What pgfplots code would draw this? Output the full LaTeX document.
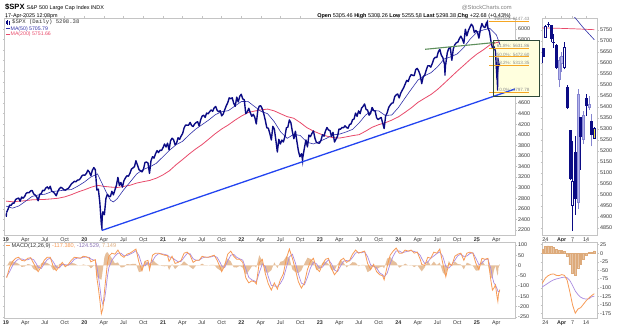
\documentclass[border=0pt]{standalone}
\usepackage{pgfplots}
\pgfplotsset{compat=1.18}
\usepackage{pgfplotstable}
\usepackage{fontspec}
\setmainfont{Liberation Sans}
\newfontfamily\monofont{Liberation Mono}

\definecolor{navyb}{HTML}{0B0B84}
\definecolor{ma50}{HTML}{3030A8}
\definecolor{ma200}{HTML}{E84A6A}
\definecolor{trend}{HTML}{2344F0}
\definecolor{greenl}{HTML}{5E8F5C}
\definecolor{fib}{HTML}{F5A623}
\definecolor{macdc}{HTML}{F79A55}
\definecolor{sigc}{HTML}{A98BE0}
\definecolor{histc}{HTML}{DDAA7A}
\definecolor{framec}{HTML}{C4C4C4}
\definecolor{lblc}{HTML}{333333}
\definecolor{boxfill}{HTML}{FFFFDE}
\definecolor{boxdraw}{HTML}{2F4A3A}
\definecolor{fibtxt}{HTML}{8C8C8C}
\definecolor{lightf}{HTML}{B4B4EC}
\definecolor{lightd}{HTML}{8585D0}
\definecolor{hlyel}{HTML}{F2E33A}

% weekly closes, Jan 2019 - 17 Apr 2025
\pgfplotstableread[row sep=\\]{v\\
2532\\2596\\2671\\2665\\2707\\2708\\2776\\2793\\2804\\2743\\2822\\2800\\2834\\2893\\2907\\2905\\2940\\2946\\2881\\2860\\2826\\2752\\2873\\2887\\2950\\2942\\2990\\3014\\2977\\3026\\2932\\2919\\2889\\2847\\2926\\2979\\3007\\2992\\2962\\2952\\2970\\2986\\3023\\3067\\3093\\3120\\3110\\3141\\3146\\3169\\3221\\3240\\
3235\\3265\\3330\\3295\\3226\\3328\\3380\\3338\\2954\\2972\\2711\\2305\\2541\\2489\\2790\\2875\\2837\\2831\\2930\\2864\\2955\\3044\\3194\\3041\\3098\\3009\\3130\\3185\\3225\\3216\\3271\\3351\\3373\\3397\\3508\\3427\\3341\\3319\\3298\\3348\\3477\\3484\\3465\\3270\\3509\\3585\\3558\\3638\\3699\\3663\\3709\\3703\\3756\\
3825\\3768\\3841\\3714\\3887\\3934\\3907\\3811\\3842\\3943\\3913\\3975\\4020\\4129\\4185\\4180\\4181\\4233\\4174\\4156\\4204\\4230\\4247\\4166\\4281\\4352\\4370\\4327\\4411\\4395\\4437\\4468\\4442\\4509\\4535\\4459\\4433\\4455\\4357\\4391\\4471\\4545\\4605\\4697\\4682\\4698\\4595\\4538\\4712\\4620\\4726\\4766\\
4677\\4662\\4398\\4432\\4500\\4418\\4349\\4385\\4329\\4204\\4463\\4543\\4546\\4488\\4393\\4272\\4132\\4123\\4024\\3901\\4158\\4109\\3901\\3675\\3912\\3825\\3899\\3863\\3962\\4130\\4145\\4280\\4228\\4058\\3924\\4067\\3873\\3693\\3586\\3640\\3583\\3752\\3901\\3771\\3993\\3965\\4026\\4072\\3934\\3852\\3845\\3840\\
3895\\3999\\3973\\4071\\4136\\4090\\4079\\3970\\4046\\3862\\3917\\3971\\4109\\4105\\4138\\4133\\4169\\4136\\4124\\4192\\4205\\4282\\4299\\4410\\4348\\4450\\4399\\4505\\4536\\4582\\4478\\4464\\4370\\4406\\4516\\4457\\4450\\4320\\4288\\4308\\4327\\4224\\4117\\4358\\4415\\4514\\4559\\4595\\4604\\4719\\4755\\4770\\
4697\\4784\\4840\\4891\\4959\\5027\\5006\\5089\\5137\\5124\\5117\\5234\\5254\\5204\\5123\\4967\\5100\\5128\\5223\\5303\\5305\\5278\\5347\\5432\\5465\\5460\\5567\\5615\\5505\\5459\\5346\\5344\\5554\\5634\\5648\\5408\\5626\\5702\\5738\\5751\\5815\\5864\\5808\\5729\\5995\\5870\\5969\\6032\\6090\\6051\\5931\\5971\\
5942\\5827\\5997\\6101\\6041\\6026\\6115\\6013\\5955\\5770\\5639\\5667\\5581\\5074\\5363\\5298\\
}\spx

\pgfplotsset{
  panel/.style={
    scale only axis, anchor=south west,
    axis line style={draw=framec, line width=0.5pt},
    tick style={draw=framec, line width=0.4pt},
    tick align=outside, major tick length=1.5pt,
    yticklabel pos=right,
    tick label style={font=\fontsize{5.4}{6}\selectfont, text=lblc},
    xticklabel style={inner sep=1pt},
    yticklabel style={inner sep=1.5pt},
    /pgf/number format/assume math mode=true,
    /pgf/number format/1000 sep={},
  },
  wk/.style={
    xmin=-1.4, xmax=338,
    xtick={-0.43,12.43,25.43,38.57,51.71,64.71,77.71,90.86,104,116.86,129.86,143,156.14,169,182,195.14,208.29,221.14,234.14,247.29,260.43,273.43,286.43,299.57,312.71,325.57},
    xticklabels={\textbf{19},Apr,Jul,Oct,\textbf{20},Apr,Jul,Oct,\textbf{21},Apr,Jul,Oct,\textbf{22},Apr,Jul,Oct,\textbf{23},Apr,Jul,Oct,\textbf{24},Apr,Jul,Oct,\textbf{25},Apr},
  },
  dy/.style={
    xmin=-1.25, xmax=19,
    xtick={0,6,10,15}, xticklabels={24,\textbf{Apr},7,14},
  },
  cdn/.style={draw=navyb, fill=navyb},
  cdl/.style={draw=lightd, fill=lightf},
  cdh/.style={draw=navyb, fill=white},
  cdy/.style={draw=navyb, fill=hlyel},
}
% wick: x, low, high, colour ; body: left x, right x, bottom, top, style
\newcommand\wick[4]{\addplot[#4, line width=0.45pt, forget plot] coordinates {(#1,#2) (#1,#3)};}
\newcommand\cbody[5]{\addplot[#5, line width=0.45pt, forget plot] coordinates {(#1,#3) (#2,#3) (#2,#4) (#1,#4)} -- cycle;}

\begin{document}
\begin{tikzpicture}
\path[use as bounding box] (0pt,0pt) rectangle (624pt,336pt);

% ---------------- main price panel ----------------
\begin{axis}[panel, wk, at={(4.5pt,101pt)}, width=510.5pt, height=217pt,
  ymin=2105, ymax=6207, ytick={2200,2400,...,6000}, clip=false]
  \fill[boxfill] (axis cs:323.4,5791) rectangle (axis cs:354,4733);
  \addplot[ma200, line width=0.8pt] coordinates {
    (-0.3,2745) (3.92,2733) (8.27,2744) (12.61,2754) (16.96,2770) (21.31,2775) (25.66,2778) (30,2788) (34.35,2800) (38.7,2826) (43.05,2867) (47.4,2917) (51.75,2959)
    (56.1,3007) (60.45,3044) (64.79,3024) (69.14,3011) (73.49,3003) (77.84,3023) (82.18,3046) (86.53,3087) (90.88,3113) (95.23,3137) (99.58,3180) (103.93,3240)
    (108.28,3320) (112.63,3432) (116.97,3531) (121.32,3635) (125.67,3731) (130.02,3816) (134.36,3917) (138.71,4020) (143.06,4110) (147.41,4186) (151.76,4274) (156.11,4353)
    (160.46,4419) (164.81,4448) (169.15,4470) (173.5,4485) (177.85,4452) (182.2,4396) (186.54,4342) (190.89,4312) (195.24,4230) (199.59,4135) (203.94,4070) (208.29,4018)
    (212.64,3975) (216.99,3944) (221.33,3937) (225.68,3959) (230.03,3983) (234.38,4002) (238.72,4068) (243.07,4142) (247.42,4191) (251.77,4227) (256.12,4277) (260.47,4338)
    (264.82,4422) (269.17,4511) (273.51,4613) (277.86,4689) (282.21,4762) (286.56,4858) (290.9,4971) (295.25,5087) (299.6,5203) (303.95,5313) (308.3,5425) (312.65,5525)
    (317,5606) (321.35,5699) (325.69,5743) (327.9,5752)};
  \addplot[ma50, line width=0.6pt] coordinates {
    (-0.3,2650) (3.92,2612) (8.27,2656) (12.61,2744) (16.96,2835) (21.31,2863) (25.66,2877) (30,2926) (34.35,2938) (38.7,2954) (43.05,2964) (47.4,3029) (51.75,3107)
    (56.1,3203) (60.45,3259) (64.79,3000) (67,2870) (69.14,2760) (71,2730) (73.49,2790) (77.84,2960) (82.18,3108) (86.53,3260) (90.88,3344) (95.23,3392) (99.58,3461) (103.93,3584)
    (108.28,3706) (112.63,3810) (116.97,3876) (121.32,3997) (125.67,4106) (130.02,4192) (134.36,4278) (138.71,4378) (143.06,4436) (147.41,4455) (151.76,4542) (156.11,4628)
    (160.46,4630) (164.81,4534) (169.15,4442) (173.5,4398) (177.85,4250) (182.2,4054) (186.54,3932) (190.89,4008) (195.24,3986) (199.59,3860) (203.94,3826) (208.29,3876)
    (212.64,3932) (216.99,3998) (221.33,4012) (225.68,4052) (230.03,4102) (234.38,4224) (238.72,4374) (243.07,4458) (247.42,4450) (251.77,4364) (256.12,4374) (260.47,4514)
    (264.82,4692) (269.17,4866) (273.51,5034) (277.86,5114) (282.21,5174) (286.56,5286) (290.9,5432) (295.25,5472) (299.6,5528) (303.95,5650) (308.3,5812) (312.65,5934)
    (317,5982) (321.35,6010) (325.69,5884) (327.9,5706)};
  \addplot[navyb, line width=1.4pt, line join=round] table[x expr=\coordindex, y=v] {\spx};
  \addplot[navyb, line width=1.1pt] coordinates {(-0.35,2510) (-0.15,2447) (0,2532)};
  \addplot[navyb, line width=1.1pt] coordinates {(63,2305) (63.43,2192) (63.6,2450) (64,2541)};
  \addplot[navyb, line width=1.1pt] coordinates {(196,3640) (196.8,3491) (197,3583)};
  \addplot[navyb, line width=1.1pt] coordinates {(291,5346) (291.43,5120) (292,5344)};
  \addplot[navyb, line width=1.1pt] coordinates {(319,6115) (319.71,6147) (320,6013)};
  \addplot[navyb, line width=1.1pt] coordinates {(326,5074) (326.43,4835) (326.57,4983) (326.71,5457) (327,5363)};
  \addplot[trend, line width=1.3pt] coordinates {(63.4,2192) (338,4865)};
  \addplot[greenl, line width=1.1pt] coordinates {(278.2,5615) (324.7,5744)};
  \addplot[fib, line width=1.1pt] coordinates {(320.9,6147.43) (347.4,6147.43)};
  \addplot[fib, line width=1.1pt] coordinates {(320.9,5631.86) (347.4,5631.86)};
  \addplot[fib, line width=1.1pt] coordinates {(320.9,5472.60) (347.4,5472.60)};
  \addplot[fib, line width=1.1pt] coordinates {(320.9,5313.35) (347.4,5313.35)};
  \addplot[fib, line width=1.1pt] coordinates {(320.9,4797.78) (347.4,4797.78)};
  \draw[boxdraw, line width=0.9pt] (axis cs:323.4,5791) rectangle (axis cs:354,4733);
  \begin{scope}[every node/.style={anchor=south east, inner sep=0.4pt, text=fibtxt, font=\fontsize{4.6}{5}\selectfont}]
    \node at (axis cs:348,6147.43) {100.0\%: 6147.43};
    \node at (axis cs:348,5631.86) {61.8\%: 5631.86};
    \node at (axis cs:348,5472.60) {50.0\%: 5472.60};
    \node at (axis cs:348,5313.35) {38.2\%: 5313.35};
    \node at (axis cs:348,4797.78) {0.0\%: 4797.78};
  \end{scope}
\end{axis}

% ---------------- main MACD panel ----------------
\begin{axis}[panel, wk, at={(4.5pt,18pt)}, width=510.5pt, height=75.3pt,
  ymin=-256, ymax=111, ytick={-250,-200,...,100}]
  \addplot[draw=none, fill=histc, fill opacity=0.75] coordinates {
    (0,-5)(2,20)(4,20)(6,15)(8,8)(10,-7)(12,-5)(14,7)(16,4)(18,-18)(20,-25)(21,-22)(23,10)(25,17)(27,12)(29,3)(31,-23)(33,-18)(35,7)(37,10)(39,-9)(41,4)(43,12)(45,10)(47,2)(49,-1)(51,5)
    (53,1)(55,-4)(56,-14)(58,-1)(59,2)(60,-55)(61,-60)(62,-65)(63,-70)(64,-20)(65,40)(66,60)(67,65)(68,55)(70,35)(72,10)(74,15)(76,-10)(78,-8)(80,7)(82,5)(84,8)(86,8)(88,-33)(90,-27)(92,22)(94,10)(95,-25)(97,28)(99,14)(101,3)(103,-2)
    (105,-4)(107,-2)(108,-22)(110,7)(112,-18)(114,-3)(116,5)(118,20)(120,7)(122,-7)(124,-18)(126,0)(128,-1)(130,9)(132,-1)(134,0)(136,3)(138,3)(140,-14)(142,-24)(143,-28)(145,10)(147,33)(149,20)(151,-9)(153,-10)(155,-2)
    (157,-11)(159,-45)(161,-27)(163,-5)(165,-4)(166,-10)(168,50)(170,22)(172,-35)(174,-35)(176,-23)(178,15)(180,-13)(182,18)(184,22)(186,45)(188,38)(190,-20)(192,-32)(194,-38)(196,-24)(198,9)(200,38)(202,32)(204,19)(206,-23)(208,-18)
    (210,13)(212,18)(214,7)(216,-23)(218,-23)(220,5)(222,28)(224,14)(226,-9)(228,3)(230,16)(232,14)(234,-4)(236,3)(238,3)(240,-33)(242,-23)(244,9)(246,-18)(248,-9)(250,-5)(251,-14)(253,33)(255,42)(257,24)(259,14)
    (261,-11)(263,-2)(265,9)(267,0)(269,3)(271,-8)(273,1)(275,-19)(276,-29)(278,-9)(280,23)(282,0)(284,19)(286,2)(288,14)(290,-34)(292,-50)(294,23)(296,-4)(298,19)(300,7)(302,5)(304,-19)(306,14)(308,7)(310,-2)(312,-25)
    (314,-24)(316,24)(318,2)(320,3)(322,-58)(323,-62)(324,-24)(325,0)(326,-38)(326.6,-50)(327,-12)(327.9,7.1)} \closedcycle;
  \addplot[sigc, line width=0.7pt] coordinates {
    (0,-55)(2,-30)(4,0)(6,20)(8,32)(10,32)(12,27)(14,28)(16,34)(18,28)(20,5)(21,-8)(23,-15)(25,8)(27,28)(29,37)(31,18)(33,-7)(35,-12)(37,5)(39,4)(41,1)(43,13)(45,30)(47,36)(49,36)(51,40)
    (53,41)(55,39)(56,32)(58,26)(59,26)(60,-5)(61,-50)(62,-105)(63,-165)(64,-190)(65,-170)(66,-120)(67,-55)(68,-10)(70,25)(72,45)(74,60)(76,60)(78,48)(80,48)(82,55)(84,62)(86,72)(88,48)(90,2)(92,-2)(94,15)(95,5)(97,22)(99,46)(101,57)(103,57)
    (105,54)(107,50)(108,42)(110,38)(112,28)(114,18)(116,20)(118,40)(120,58)(122,57)(124,33)(126,25)(128,26)(130,36)(132,41)(134,40)(136,42)(138,47)(140,39)(142,14)(143,-2)(145,-10)(147,22)(149,50)(151,54)(153,40)(155,32)
    (157,26)(159,-15)(161,-58)(163,-70)(165,-76)(166,-80)(168,-35)(170,8)(172,-5)(174,-55)(176,-97)(178,-100)(180,-102)(182,-88)(184,-62)(186,-10)(188,42)(190,55)(192,12)(194,-42)(196,-86)(198,-94)(200,-58)(202,-12)(204,16)(206,8)(208,-12)
    (210,-8)(212,12)(214,28)(216,8)(218,-22)(220,-30)(222,-3)(224,21)(226,24)(228,22)(230,39)(232,61)(234,64)(236,62)(238,67)(240,43)(242,3)(244,-4)(246,-12)(248,-36)(250,-45)(251,-56)(253,-38)(255,8)(257,46)(259,71)
    (261,71)(263,62)(265,66)(267,70)(269,72)(271,68)(273,64)(275,49)(276,34)(278,9)(280,17)(282,35)(284,46)(286,58)(288,66)(290,44)(292,-5)(294,-13)(296,4)(298,26)(300,48)(302,55)(304,44)(306,46)(308,58)(310,62)(312,35)
    (314,4)(316,11)(318,28)(320,32)(322,-17)(323,-58)(324,-86)(325,-95)(326,-112)(326.6,-125)(327,-128)(327.9,-124.5)};
  \addplot[macdc, line width=0.8pt] coordinates {
    (0,-60)(2,-10)(4,20)(6,35)(8,40)(10,25)(12,22)(14,35)(16,38)(18,10)(20,-20)(21,-30)(23,-5)(25,25)(27,40)(29,40)(31,-5)(33,-25)(35,-5)(37,15)(39,-5)(41,5)(43,25)(45,40)(47,38)(49,35)(51,45)
    (53,42)(55,35)(56,18)(58,25)(59,28)(60,-60)(61,-110)(62,-170)(63,-235)(64,-210)(65,-130)(66,-60)(67,10)(68,45)(70,60)(72,55)(74,75)(76,50)(78,40)(80,55)(82,60)(84,70)(86,80)(88,15)(90,-25)(92,20)(94,25)(95,-20)(97,50)(99,60)(101,60)(103,55)
    (105,50)(107,48)(108,20)(110,45)(112,10)(114,15)(116,25)(118,60)(120,65)(122,50)(124,15)(126,25)(128,25)(130,45)(132,40)(134,40)(136,45)(138,50)(140,25)(142,-10)(143,-30)(145,0)(147,55)(149,70)(151,45)(153,30)(155,30)
    (157,15)(159,-60)(161,-85)(163,-75)(165,-80)(166,-90)(168,15)(170,30)(172,-40)(174,-90)(176,-120)(178,-85)(180,-115)(182,-70)(184,-40)(186,35)(188,80)(190,35)(192,-20)(194,-80)(196,-110)(198,-85)(200,-20)(202,20)(204,35)(206,-15)(208,-30)
    (210,5)(212,30)(214,35)(216,-15)(218,-45)(220,-25)(222,25)(224,35)(226,15)(228,25)(230,55)(232,75)(234,60)(236,65)(238,70)(240,10)(242,-20)(244,5)(246,-30)(248,-45)(250,-50)(251,-70)(253,-5)(255,50)(257,70)(259,85)
    (261,60)(263,60)(265,75)(267,70)(269,75)(271,60)(273,65)(275,30)(276,5)(278,0)(280,40)(282,35)(284,65)(286,60)(288,80)(290,10)(292,-55)(294,10)(296,0)(298,45)(300,55)(302,60)(304,25)(306,60)(308,65)(310,60)(312,10)
    (314,-20)(316,35)(318,30)(320,35)(322,-75)(323,-120)(324,-110)(325,-95)(326,-150)(326.6,-175)(327,-140)(327.9,-117.4)};
\end{axis}

% ---------------- daily zoom price panel ----------------
\begin{axis}[panel, dy, at={(542pt,101pt)}, width=55pt, height=217pt,
  ymin=4817, ymax=5805, ytick={4850,4900,...,5750}]
  \addplot[ma200, line width=0.7pt] coordinates {(-1.25,5760) (5,5758) (10,5756) (14,5754) (18,5751.7)};
  \addplot[ma50, line width=0.6pt] coordinates {(8,5850) (10,5820) (12,5790) (14,5760) (16,5733) (18,5706)};
  \wick{-1}{5599}{5670}{navyb}   \cbody{-1.4}{-0.6}{5630}{5667}{cdn}
  \wick{0}{5718}{5775}{navyb}    \cbody{-0.4}{0.4}{5718}{5768}{cdh}
  \wick{1}{5763}{5787}{navyb}    \cbody{0.6}{1.4}{5775}{5777}{cdh}
  \wick{2}{5694}{5771}{navyb}    \cbody{1.6}{2.4}{5712}{5771}{cdn}
  \wick{3}{5670}{5732}{navyb}    \cbody{2.6}{3.4}{5693}{5695}{cdn}
  \wick{4}{5572}{5685}{navyb}    \cbody{3.6}{4.4}{5581}{5679}{cdn}
  \wick{5}{5489}{5627}{lightd}   \cbody{4.6}{5.4}{5527}{5612}{cdl}
  \wick{6}{5558}{5650}{lightd}   \cbody{5.6}{6.4}{5597}{5633}{cdl}
  \wick{7}{5571}{5695}{navyb}    \cbody{6.6}{7.4}{5580}{5671}{cdh}
  \wick{8}{5390}{5500}{navyb}    \cbody{7.6}{8.4}{5397}{5492}{cdn}
  \wick{9}{5069}{5292}{navyb}    \cbody{8.6}{9.4}{5074}{5292}{cdn}
  \wick{10}{4835}{5246}{navyb}   \cbody{9.6}{10.4}{4953}{5062}{cdh}
  \wick{11}{4910}{5267}{navyb}   \cbody{10.6}{11.4}{4983}{5193}{cdn}
  \wick{12}{4937}{5481}{lightd}  \cbody{11.6}{12.4}{4965}{5457}{cdl}
  \wick{13}{5115}{5353}{navyb}   \cbody{12.6}{13.4}{5268}{5353}{cdn}
  \wick{14}{5230}{5381}{lightd}  \cbody{13.6}{14.4}{5255}{5363}{cdl}
  \wick{15}{5358}{5459}{navyb}   \cbody{14.6}{15.4}{5406}{5441}{cdn}
  \wick{16}{5386}{5450}{lightd}  \cbody{15.6}{16.4}{5397}{5411}{cdl}
  \wick{17}{5220}{5367}{lightd}  \cbody{16.6}{17.4}{5276}{5335}{cdn}
  \wick{18}{5256}{5308}{navyb}   \cbody{17.6}{18.4}{5256}{5305}{cdy}
\end{axis}

% ---------------- daily zoom MACD panel ----------------
\begin{axis}[panel, dy, at={(542pt,18pt)}, width=55pt, height=75.3pt,
  ymin=-188, ymax=30.8, ytick={-175,-150,...,25}]
  \addplot[ybar, bar width=1.9pt, fill=histc!70, draw=histc] coordinates {
    (-1,12) (0,20) (1,21.6) (2,20.5) (3,17.2) (4,10.6) (5,7.7) (6,8.5) (7,5.2) (8,-7) (9,-32.8)
    (10,-56.6) (11,-64.5) (12,-42) (13,-30.4) (14,-16.3) (15,-5) (16,2.4) (17,3.5) (18,7.1)};
  \addplot[sigc, line width=0.7pt] coordinates {
    (-1.25,-98) (-1,-97) (0,-92) (1,-86.6) (2,-81.5) (3,-77.2) (4,-74.6) (5,-72.7) (6,-70.5) (7,-69.2) (8,-71) (9,-79.2)
    (10,-93.4) (11,-109.5) (12,-120) (13,-127.6) (14,-131.7) (15,-133) (16,-132.4) (17,-126.5) (18,-124.5)};
  \addplot[macdc, line width=0.8pt] coordinates {
    (-1.25,-88) (-1,-85) (0,-72) (1,-65) (2,-61) (3,-60) (4,-64) (5,-65) (6,-62) (7,-64) (8,-78) (9,-112)
    (10,-150) (11,-174) (12,-162) (13,-158) (14,-148) (15,-138) (16,-130) (17,-123) (18,-117.4)};
\end{axis}

% ---------------- texts ----------------
\node[anchor=base west, inner sep=0] at (5pt,326.5pt) {\fontsize{7.6}{8}\selectfont\bfseries \$SPX\ \mdseries\fontsize{5.4}{6}\selectfont S\&P 500 Large Cap Index INDX};
\node[anchor=base west, inner sep=0] at (5pt,318.6pt) {\fontsize{5.4}{6}\selectfont 17-Apr-2025 12:08pm};
\node[anchor=base east, inner sep=0] at (511pt,318.6pt) {\fontsize{5.5}{6}\selectfont \textbf{Open} 5305.46 \textbf{High} 5308.26 \textbf{Low} 5255.58 \textbf{Last} 5298.38 \textbf{Chg} +22.68 (+0.43\%)};
\node[anchor=base east, inner sep=0, text=gray] at (512pt,326.5pt) {\fontsize{5.8}{6}\selectfont @StockCharts.com};

\draw[navyb, line width=0.5pt] (7pt,311.3pt)--(7pt,315.5pt);
\fill[navyb] (6.2pt,312.2pt) rectangle (7.8pt,314.6pt);
\draw[navyb, line width=0.5pt] (9.3pt,311.3pt)--(9.3pt,315.2pt);
\fill[navyb] (8.5pt,312.2pt) rectangle (10.1pt,314.3pt);
\node[anchor=base west, inner sep=0, text=lblc] at (12pt,312pt) {\monofont\fontsize{5.6}{6}\selectfont \$SPX (Daily) 5298.38};
\draw[ma50, line width=0.9pt] (6pt,307.4pt)--(10pt,307.4pt);
\node[anchor=base west, inner sep=0, text=ma50] at (10.5pt,305.6pt) {\fontsize{5.2}{6}\selectfont MA(50) 5705.79};
\draw[ma200, line width=0.9pt] (6pt,301.8pt)--(10pt,301.8pt);
\node[anchor=base west, inner sep=0, text=ma200] at (10.5pt,300pt) {\fontsize{5.2}{6}\selectfont MA(200) 5751.66};

\draw[macdc, line width=0.9pt] (6pt,90.3pt)--(10pt,90.3pt);
\node[anchor=base west, inner sep=0] at (11.5pt,88.4pt) {\fontsize{5.6}{6}\selectfont \textcolor{lblc}{MACD(12,26,9)} \textcolor{macdc}{-117.380,} \textcolor{sigc!80!black}{-124.529,} \textcolor{histc}{7.149}};
\end{tikzpicture}
\end{document}
